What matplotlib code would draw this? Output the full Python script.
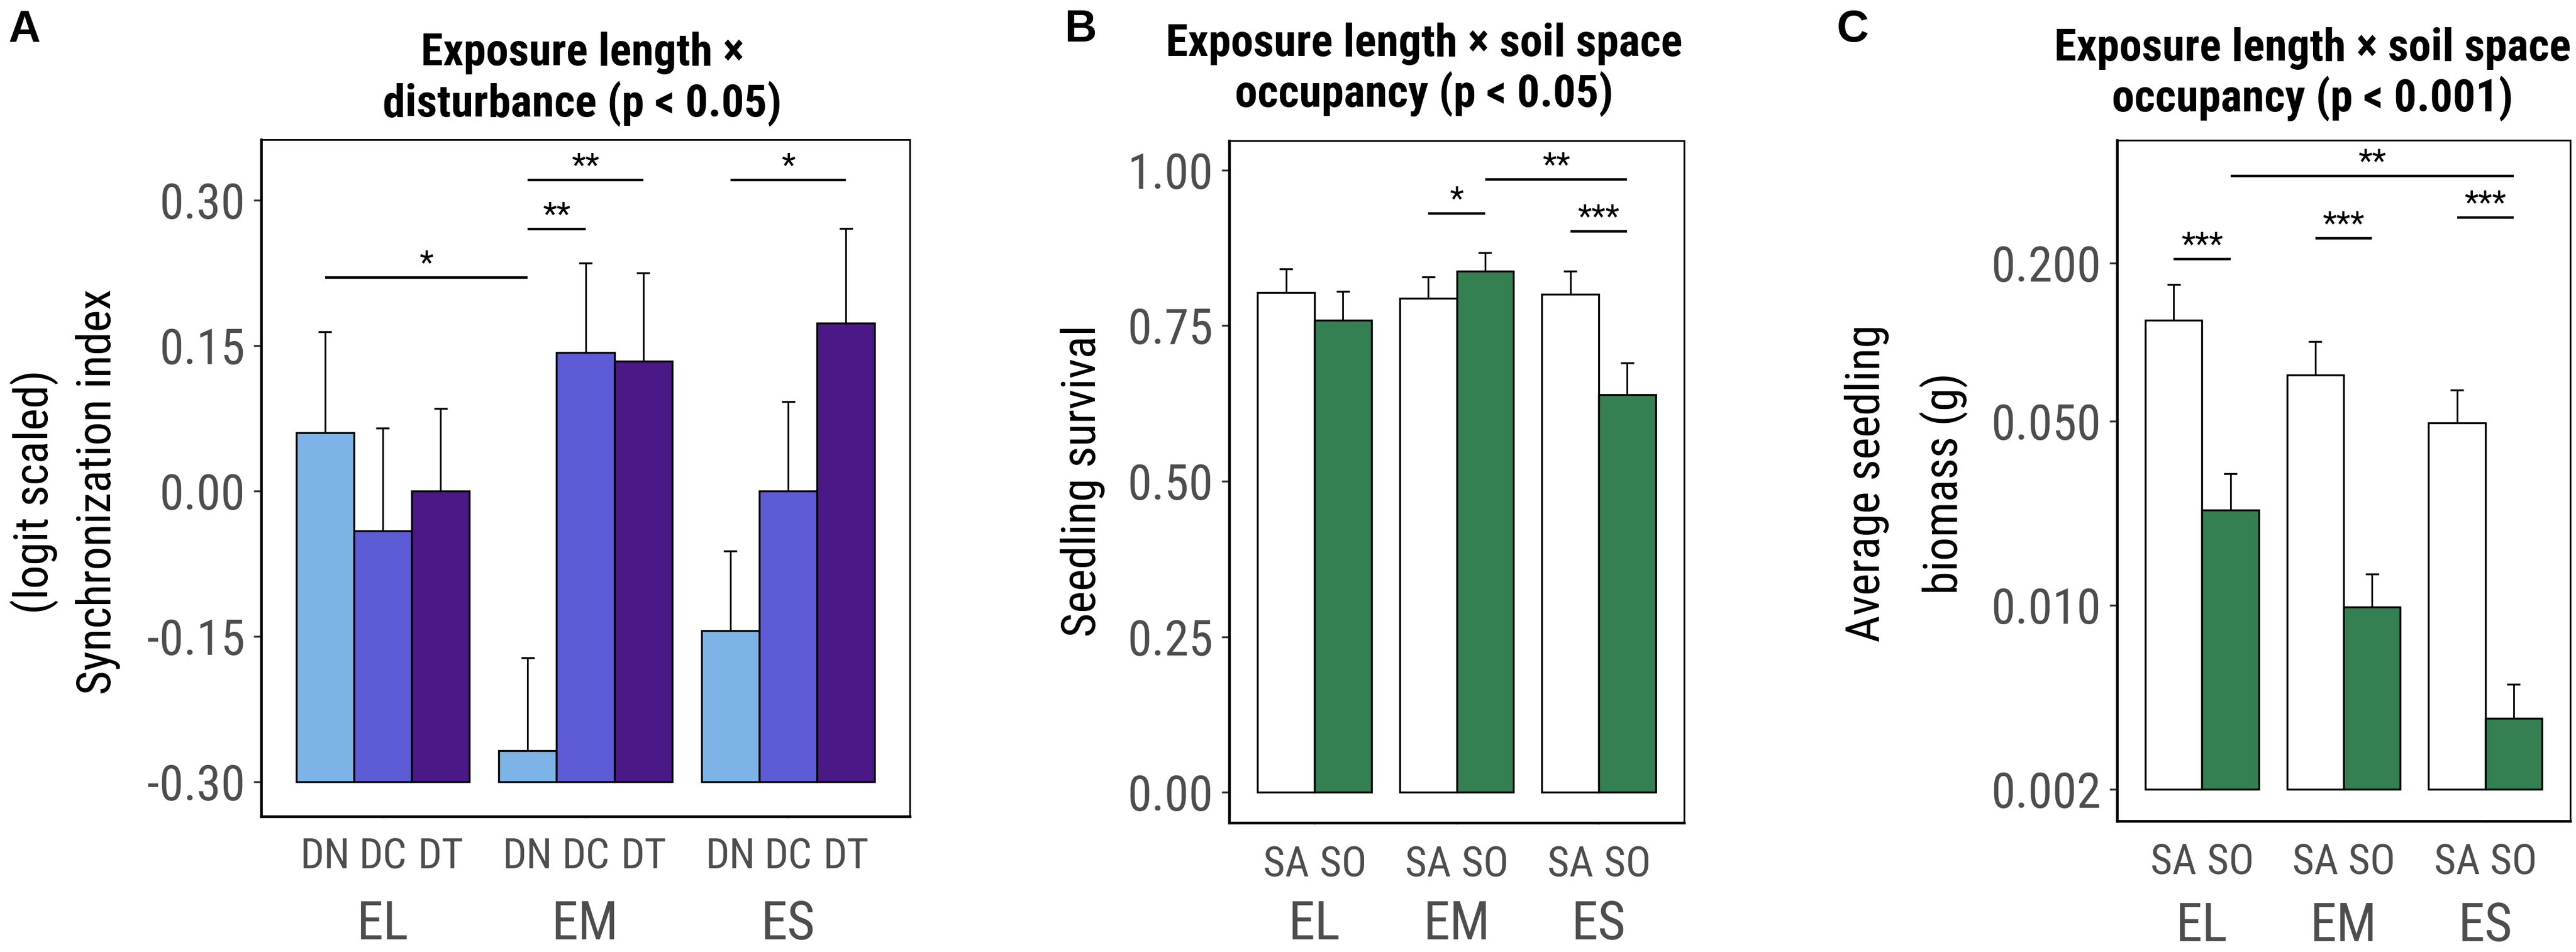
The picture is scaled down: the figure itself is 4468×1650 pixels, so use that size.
import numpy as np
import matplotlib
matplotlib.use("Agg")
import matplotlib.pyplot as plt
from matplotlib import transforms

# ---------------- data ----------------
exposure = ['EL', 'EM', 'ES']

disturbance = ['DN', 'DC', 'DT']
sync_mean = {'DN': [0.060, -0.268, -0.144],
             'DC': [-0.041, 0.143, 0.000],
             'DT': [0.000, 0.134, 0.173]}
sync_se = {'DN': [0.104, 0.096, 0.082],
           'DC': [0.106, 0.092, 0.092],
           'DT': [0.085, 0.091, 0.098]}

occupancy = ['SA', 'SO']
surv_mean = {'SA': [0.803, 0.794, 0.800],
             'SO': [0.759, 0.837, 0.639]}
surv_se = {'SA': [0.038, 0.034, 0.037],
           'SO': [0.046, 0.030, 0.051]}

biom_mean = {'SA': [0.121, 0.0752, 0.0494],
             'SO': [0.0230, 0.00987, 0.00372]}
biom_se = {'SA': [0.045, 0.0255, 0.0164],
           'SO': [0.0086, 0.0033, 0.0013]}

sig_A = [(('EL', 'DN'), ('EM', 'DN'), 0.220, '*'),
         (('EM', 'DN'), ('EM', 'DC'), 0.270, '**'),
         (('EM', 'DN'), ('EM', 'DT'), 0.321, '**'),
         (('ES', 'DN'), ('ES', 'DT'), 0.321, '*')]
sig_B = [(('EM', 'SA'), ('EM', 'SO'), 0.930, '*'),
         (('EM', 'SO'), ('ES', 'SO'), 0.985, '**'),
         (('ES', 'SA'), ('ES', 'SO'), 0.901, '***')]
sig_C = [(('EL', 'SA'), ('EL', 'SO'), 0.207, '***'),
         (('EM', 'SA'), ('EM', 'SO'), 0.248, '***'),
         (('ES', 'SA'), ('ES', 'SO'), 0.298, '***'),
         (('EL', 'SO'), ('ES', 'SO'), 0.428, '**')]

titles = {'A': ['Exposure length \u00d7', 'disturbance (p < 0.05)'],
          'B': ['Exposure length \u00d7 soil space', 'occupancy (p < 0.05)'],
          'C': ['Exposure length \u00d7 soil space', 'occupancy (p < 0.001)']}

yticks_A = [-0.30, -0.15, 0.00, 0.15, 0.30]
yticks_B = [0.00, 0.25, 0.50, 0.75, 1.00]
yticks_C = [0.002, 0.010, 0.050, 0.200]
yticklabels_C = ['0.002', '0.010', '0.050', '0.200']

dist_colors = {'DN': '#7DB3E6', 'DC': '#5D5BD6', 'DT': '#4B1888'}
occ_colors = {'SA': '#FFFFFF', 'SO': '#348052'}

# ---------------- figure ----------------
W, H = 4468, 1650
DPI = 300
COND = ['Roboto Condensed', 'Fira Sans Condensed', 'Roboto', 'DejaVu Sans']
plt.rcParams['font.family'] = COND

fig = plt.figure(figsize=(W / DPI, H / DPI), dpi=DPI)
fig.patch.set_facecolor('white')

GREY = '#4D4D4D'


def fx(x):
    return x / W


def fy(y):
    return 1 - y / H


def px_axes(l, t, r, b):
    return fig.add_axes([l / W, 1 - b / H, (r - l) / W, (b - t) / H])


def draw_panel(ax, axpx, subs, means, ses, colors, base, width, ylim, yticks,
               yticklabels, sigs, inner_base, outer_base, log=False):
    l, t, r, b = axpx
    ax.set_xlim(0.4, 3.6)
    if log:
        ax.set_yscale('log')
    ax.set_ylim(*ylim)
    px_per_unit = (r - l) / 3.2
    capw = 23 / px_per_unit
    n = len(subs)
    bw = width / n
    pos = {}
    for j, s in enumerate(subs):
        offs = -width / 2 + bw * (j + 0.5)
        x = np.arange(1, len(exposure) + 1) + offs
        m = np.array(means[s])
        e = np.array(ses[s])
        ax.vlines(x, m, m + e, color='black', lw=0.7, zorder=1)
        ax.hlines(m + e, x - capw / 2, x + capw / 2, color='black', lw=0.8, zorder=1)
        ax.bar(x, m - base, bottom=base, width=bw, color=colors[s],
               edgecolor='black', linewidth=0.8, zorder=2)
        for g, xv in zip(exposure, x):
            pos[(g, s)] = xv
    # significance
    for a, bb, y, lab in sigs:
        x1, x2 = pos[a], pos[bb]
        ax.plot([x1, x2], [y, y], color='black', lw=1.05, solid_capstyle='butt', zorder=3)
        ax.annotate(lab, xy=((x1 + x2) / 2, y), xytext=(0, 1.7), textcoords='offset points',
                    ha='center', va='baseline', fontsize=13.5, color='black')
    # axes styling
    for sp in ['top', 'right']:
        ax.spines[sp].set_linewidth(0.7)
    for sp in ['left', 'bottom']:
        ax.spines[sp].set_linewidth(1.1)
    ax.set_yticks(yticks)
    ax.set_yticklabels(yticklabels)
    ax.minorticks_off()
    ax.tick_params(axis='y', length=3.1, width=0.8, color='#333333', pad=3.6,
                   labelsize=20.5, labelcolor=GREY)
    ax.set_xticks([1, 2, 3])
    ax.set_xticklabels(['', '', ''])
    ax.tick_params(axis='x', length=0.8, width=0.6, color='#BBBBBB')
    tr = transforms.blended_transform_factory(ax.transData, fig.transFigure)
    for (g, s), xv in pos.items():
        ax.text(xv, fy(inner_base), s, transform=tr, ha='center', va='baseline',
                fontsize=17.5, color=GREY)
    for i, g in enumerate(exposure):
        ax.text(i + 1, fy(outer_base), g, transform=tr, ha='center', va='baseline',
                fontsize=22.3, color=GREY)


# Panel A
pxA = (453, 242, 1578, 1415)
axA = px_axes(*pxA)
draw_panel(axA, pxA, disturbance, sync_mean, sync_se, dist_colors, -0.30, 0.855,
           (-0.3357, 0.3625), yticks_A, ['%.2f' % v for v in yticks_A], sig_A, 1505, 1628)

# Panel B
pxB = (2132, 244, 2921, 1426)
axB = px_axes(*pxB)
draw_panel(axB, pxB, occupancy, surv_mean, surv_se, occ_colors, 0.0, 0.8,
           (-0.049, 1.047), yticks_B, ['%.2f' % v for v in yticks_B], sig_B, 1519, 1628)

# Panel C
pxC = (3672, 243, 4458, 1423)
axC = px_axes(*pxC)
draw_panel(axC, pxC, occupancy, biom_mean, biom_se, occ_colors, 0.002, 0.8,
           (10 ** -2.820, 10 ** -0.232), yticks_C, yticklabels_C, sig_C, 1515, 1631, log=True)

# titles
title_pos = {'A': (1010, 113, 202), 'B': (2470, 97, 185), 'C': (4011, 105, 193)}
for k, (xc, b1, b2) in title_pos.items():
    fig.text(fx(xc), fy(b1), titles[k][0], ha='center', va='baseline',
             fontsize=18.8, fontweight='bold', color='black')
    fig.text(fx(xc), fy(b2), titles[k][1], ha='center', va='baseline',
             fontsize=18.8, fontweight='bold', color='black')

# y labels
YL = 19.5
fig.text(fx(60), fy(852), '(logit scaled)', rotation=90, ha='center', va='center', fontsize=YL)
fig.text(fx(170), fy(852), 'Synchronization index', rotation=90, ha='center', va='center', fontsize=YL)
fig.text(fx(1878), fy(834), 'Seedling survival', rotation=90, ha='center', va='center', fontsize=YL)
fig.text(fx(3238), fy(838), 'Average seedling', rotation=90, ha='center', va='center', fontsize=YL)
fig.text(fx(3372), fy(838), 'biomass (g)', rotation=90, ha='center', va='center', fontsize=YL)

# panel letters
for lab, xl in [('A', 14), ('B', 1847), ('C', 3186)]:
    fig.text(fx(xl), fy(72), lab, ha='left', va='baseline', fontsize=18.5,
             fontweight='bold', family=['Liberation Sans', 'DejaVu Sans'])

fig.savefig('out.png', dpi=DPI, facecolor='white')
